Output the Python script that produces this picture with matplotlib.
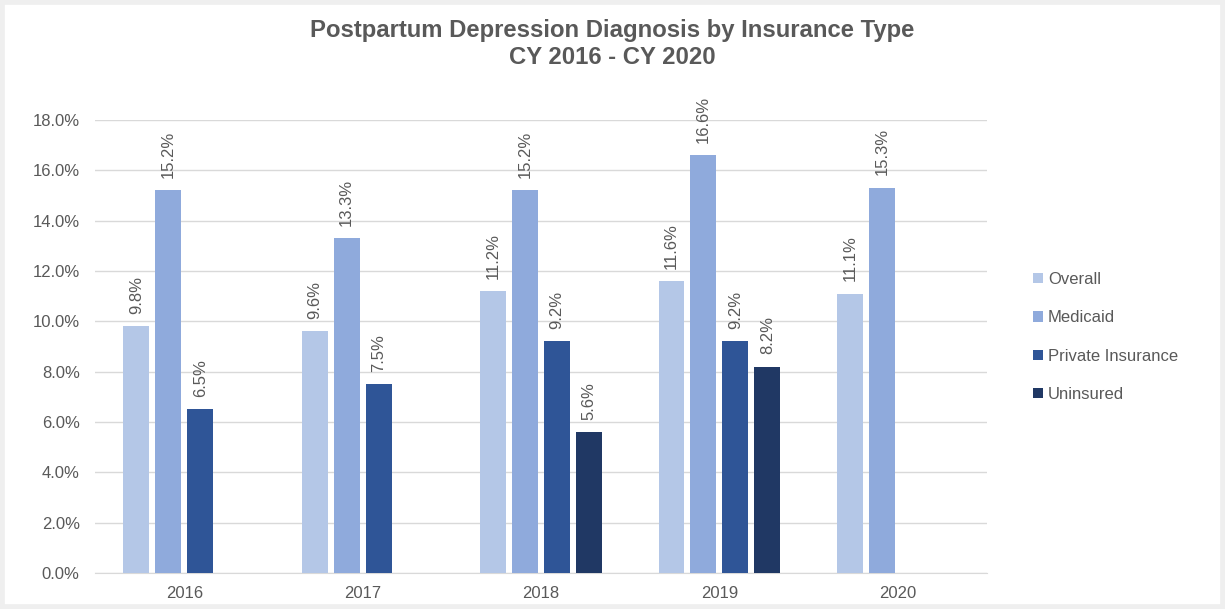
import matplotlib
matplotlib.use("Agg")
import matplotlib.pyplot as plt
import numpy as np
from matplotlib.patches import Rectangle, Patch

plt.rcParams['font.family'] = ['Liberation Sans', 'DejaVu Sans']

years = ["2016", "2017", "2018", "2019", "2020"]
series_names = ["Overall", "Medicaid", "Private Insurance", "Uninsured"]
overall = [9.8, 9.6, 11.2, 11.6, 11.1]
medicaid = [15.2, 13.3, 15.2, 16.6, 15.3]
private = [6.5, 7.5, 9.2, 9.2, np.nan]
uninsured = [np.nan, np.nan, 5.6, 8.2, np.nan]
colors = ["#b4c7e7", "#8faadc", "#2f5597", "#203864"]

text_color = "#595959"

fig = plt.figure(figsize=(12.25, 6.09), dpi=100)
fig.patch.set_facecolor("white")
fig.patches.append(Rectangle((0, 0), 1, 1, transform=fig.transFigure, fill=False,
                             edgecolor="#efefef", linewidth=7, zorder=10))

ax = fig.add_axes([95/1225, 1 - 573/609, (987-95)/1225, (573-120)/609])

x = np.arange(len(years))
step = 0.179
width = 0.145
all_series = [overall, medicaid, private, uninsured]
for i, (name, vals, c) in enumerate(zip(series_names, all_series, colors)):
    vals = np.array(vals, dtype=float)
    mask = ~np.isnan(vals)
    pos = x[mask] + (i - 1.5) * step
    bars = ax.bar(pos, vals[mask], width=width, color=c, zorder=3, label=name)
    ax.bar_label(bars, labels=[f"{v:.1f}%" for v in vals[mask]], rotation=90,
                 padding=9, fontsize=12, color=text_color)

ax.set_xlim(-0.5, 4.5)
ax.set_ylim(0, 18)
ax.set_yticks(np.arange(0, 18.1, 2))
ax.set_yticklabels([f"{t:.1f}%" for t in np.arange(0, 18.1, 2)])
ax.set_xticks(x)
ax.set_xticklabels(years)
ax.tick_params(axis='both', length=0, labelsize=12, colors=text_color)
ax.tick_params(axis='y', pad=11)
ax.tick_params(axis='x', pad=9)
ax.yaxis.grid(True, color="#d9d9d9", linewidth=1, zorder=0)
ax.set_axisbelow(True)
for s in ["top", "right", "left"]:
    ax.spines[s].set_visible(False)
ax.spines["bottom"].set_color("#d9d9d9")

fig.text(0.5, 1 - 31/609, "Postpartum Depression Diagnosis by Insurance Type",
         ha="center", va="center", fontsize=17.2, fontweight="bold", color=text_color)
fig.text(0.5, 1 - 58/609, "CY 2016 - CY 2020",
         ha="center", va="center", fontsize=17.2, fontweight="bold", color=text_color)

handles = [Patch(facecolor=c, edgecolor="none") for c in colors]
leg = fig.legend(handles, series_names, loc="upper left",
                 bbox_to_anchor=(1018/1225, 1 - 257/609), frameon=False,
                 fontsize=12, handlelength=0.6, handleheight=0.6, handletextpad=0.3,
                 labelspacing=1.4)
for t in leg.get_texts():
    t.set_color(text_color)

fig.savefig("out.png", dpi=100)
